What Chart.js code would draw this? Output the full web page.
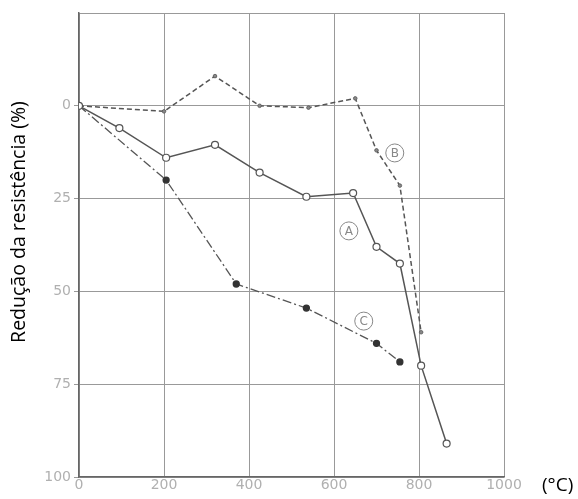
<!DOCTYPE html>
<html><head><meta charset="utf-8">
<script src="https://cdn.jsdelivr.net/npm/chart.js@4/dist/chart.umd.min.js"></script>
<style>html,body{margin:0;padding:0;background:#fff}#wrap{width:578px;height:499px}</style>
</head><body><div id="wrap"><canvas id="c" width="578" height="499"></canvas></div>
<script>
const xA = [0, 95, 205, 320, 425, 535, 645, 700, 755, 805, 865];
const yA = [0, 6, 14, 10.5, 18, 24.5, 23.5, 38, 42.5, 70, 91];
const xB = [0, 200, 320, 425, 540, 650, 700, 755, 805];
const yB = [0, 1.5, -8, 0, 0.5, -2, 12, 21.5, 61];
const xC = [0, 205, 370, 535, 700, 755];
const yC = [0, 20, 48, 54.5, 64, 69];
const xTicks = [0, 200, 400, 600, 800, 1000];
const yTicks = [0, 25, 50, 75, 100];
const curveLabels = [{t:'A', x:635, y:33.7}, {t:'B', x:743, y:12.7}, {t:'C', x:670, y:58}];
const yTitle = 'Redução da resistência (%)';
const xTitle = '(°C)';

const pts = (xs, ys) => xs.map((x, i) => ({x, y: ys[i]}));
const lineCol = '#555';

const annot = {
  id: 'annot',
  afterDatasetsDraw(chart) {
    const {ctx, scales:{x, y}} = chart;
    ctx.save();
    curveLabels.forEach(l => {
      const px = x.getPixelForValue(l.x), py = y.getPixelForValue(l.y);
      ctx.beginPath(); ctx.arc(px, py, 9, 0, Math.PI*2);
      ctx.strokeStyle = '#888'; ctx.lineWidth = 1; ctx.stroke();
      ctx.fillStyle = '#888'; ctx.font = '12px "DejaVu Sans"';
      ctx.textAlign = 'center'; ctx.textBaseline = 'middle';
      ctx.fillText(l.t, px, py + 0.5);
    });
    ctx.fillStyle = '#000';
    ctx.font = '19px "Open Sans"';
    ctx.textAlign = 'left'; ctx.textBaseline = 'middle';
    ctx.fillText(xTitle, 542, 486);
    ctx.translate(19, 222); ctx.rotate(-Math.PI/2);
    ctx.textAlign = 'center';
    ctx.font = '19.5px "Open Sans"';
    ctx.fillText(yTitle, 0, 0);
    ctx.restore();
  }
};

new Chart(document.getElementById('c'), {
  type: 'line',
  data: {
    datasets: [
      {label:'A', data: pts(xA, yA), borderColor: lineCol, borderWidth: 1.5, pointRadius: 3.5, pointBackgroundColor: '#fff', pointBorderColor: lineCol, pointBorderWidth: 1.2, tension: 0},
      {label:'B', data: pts(xB, yB), borderColor: lineCol, borderWidth: 1.5, borderDash: [5, 3], pointRadius: 1.8, pointBackgroundColor: '#888', pointBorderColor: lineCol, pointBorderWidth: 0.8, tension: 0},
      {label:'C', data: pts(xC, yC), borderColor: lineCol, borderWidth: 1.3, borderDash: [9, 3, 2, 3], pointRadius: 3, pointBackgroundColor: '#333', pointBorderColor: '#333', tension: 0}
    ]
  },
  options: {
    responsive: false, animation: false,
    layout: {padding: {top: 13, right: 74, left: 0, bottom: 0}},
    plugins: {legend: {display: false}, tooltip: {enabled: false}},
    scales: {
      x: {
        type: 'linear', min: 0, max: 1000,
        afterFit(s) { s.height = 22; },
        afterBuildTicks(s) { s.ticks = xTicks.map(v => ({value: v})); },
        grid: {color: '#999', lineWidth: 1, drawTicks: false},
        border: {color: '#666', width: 1.5},
        ticks: {color: '#b0b0b0', font: {family: 'DejaVu Sans', size: 14}, padding: 0, maxRotation: 0, callback: v => String(v)}
      },
      y: {
        type: 'linear', min: -25, max: 100, reverse: true,
        afterFit(s) { s.width = 79; },
        afterBuildTicks(s) { s.ticks = [-25, ...yTicks].map(v => ({value: v})); },
        grid: {color: '#999', lineWidth: 1, tickLength: 5, tickColor: c => (c.tick && c.tick.value < 0) ? 'rgba(0,0,0,0)' : '#999'},
        border: {color: '#666', width: 1.5},
        ticks: {color: '#b0b0b0', font: {family: 'DejaVu Sans', size: 14}, padding: 3, callback: v => v < 0 ? '' : String(v)}
      }
    }
  },
  plugins: [annot]
});
</script>
</body></html>
